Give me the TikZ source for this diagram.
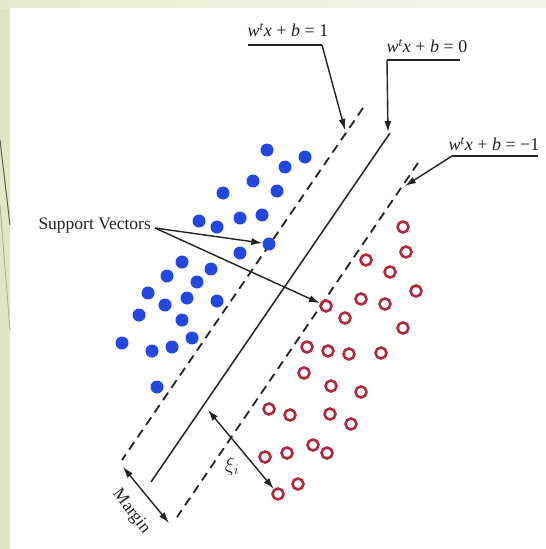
\documentclass[tikz,border=0pt]{standalone}
\usepackage{fontspec}
\setmainfont{Liberation Serif}
\usetikzlibrary{arrows.meta}
\definecolor{bgleaf}{HTML}{DFE6C6}
\definecolor{bgtop}{HTML}{F4F6EA}
\definecolor{dotblue}{HTML}{2348E0}
\definecolor{ringred}{HTML}{B02A40}
\definecolor{inkline}{HTML}{222222}
\newcommand{\eqtext}[1]{\textit{w}\textsuperscript{\textit{t}}\textit{x} + \textit{b} = #1}
\tikzset{
  bdot/.style={circle,fill=dotblue,inner sep=0pt,minimum size=13pt},
  rring/.style={circle,draw=ringred,line width=2.6pt,inner sep=0pt,minimum size=11pt},
  hyper/.style={inkline,line width=1.5pt},
  marginline/.style={inkline,line width=1.8pt,dash pattern=on 9pt off 6pt},
  eqlabel/.style={font=\fontsize{18}{20}\selectfont,inner sep=1pt,text=inkline},
  uline/.style={inkline,line width=1.6pt},
  pointer/.style={inkline,line width=1.4pt,-{Latex[length=11pt,width=7pt]}},
  twoway/.style={inkline,line width=1.4pt,{Latex[length=11pt,width=7pt]}-{Latex[length=11pt,width=7pt]}},
  caption/.style={font=\fontsize{17.5}{19}\selectfont,text=inkline,inner sep=1pt}
}
\begin{document}
\begin{tikzpicture}[x=1pt,y=-1pt]
\useasboundingbox (0,0) rectangle (546,549);
% background
\fill[bgleaf] (0,0) rectangle (546,549);
\shade[left color=bgleaf!80!white,right color=bgtop] (0,0) rectangle (546,8);
\fill[white] (10,8) rectangle (546,549);
\draw[color=black!60!bgleaf,line width=1pt] (0,140) -- (10,225);
\draw[color=black!25!bgleaf,line width=0.8pt] (0,205) -- (10,330);

% hyperplanes
\coordinate (s1) at (390,133); \coordinate (s2) at (151,482);
\coordinate (u1) at (363,108); \coordinate (u2) at (122,460);
\coordinate (l1) at (418,163); \coordinate (l2) at (177,517);
\draw[hyper] (s1) -- (s2);
\draw[marginline] (u1) -- (u2);
\draw[marginline] (l1) -- (l2);

% blue points
\foreach \n/\x/\y in {1/267/150,2/305/157,3/285/167,4/253/181,5/277/191,6/223/193,
  7/199/221,8/217/227,9/240/218,10/262/215,11/240/253,12/182/262,13/211/269,
  14/167/276,15/197/282,16/148/293,17/165/305,18/187/298,19/217/301,20/139/315,
  21/182/320,22/192/338,23/122/343,24/152/351,25/172/347,26/157/387}
  \node[bdot] (b\n) at (\x,\y) {};
\node[bdot] (sv1) at (269,244) {};

% red points
\foreach \n/\x/\y in {1/403/227,2/406/252,3/366/260,4/390/272,5/416/291,6/361/299,
  7/385/304,8/345/318,9/403/328,10/307/347,11/328/351,12/349/354,13/381/353,
  14/304/373,15/331/386,16/361/392,17/269/409,18/290/415,19/330/414,20/351/424,
  21/313/445,22/327/453,23/265/457,24/287/453,25/298/484}
  \node[rring] (r\n) at (\x,\y) {};
\node[rring] (sv2) at (326,306) {};
\node[rring] (xr) at (278,494) {};

% equation labels
\node[eqlabel] (e1) at (288,30) {\eqtext{1}};
\coordinate (e1a) at (248,45); \coordinate (e1b) at (322,45);
\draw[uline] (e1a) -- (e1b);
\coordinate (e1t) at (345,130);
\draw[pointer] (e1b) -- (e1t);

\node[eqlabel] (e0) at (427,46) {\eqtext{0}};
\coordinate (e0a) at (387,60); \coordinate (e0b) at (460,60);
\draw[uline] (e0a) -- (e0b);
\coordinate (e0t) at (388,132);
\draw[pointer] (e0a) -- (e0t);

\node[eqlabel] (em) at (494,144) {\eqtext{\textminus1}};
\coordinate (ema) at (452,156); \coordinate (emb) at (538,156);
\draw[uline] (ema) -- (emb);
\coordinate (emt) at (405,186);
\draw[pointer] (ema) -- (emt);

% support vectors
\node[caption,anchor=east] (svl) at (152,226) {Support Vectors};
\coordinate (svo) at (155,228);
\draw[pointer] (svo) -- (sv1);
\draw[pointer] (svo) -- (sv2);

% margin
\coordinate (m1) at (123,467); \coordinate (m2) at (169,523);
\draw[twoway] (m1) -- (m2);
\node[caption,rotate=-53] (ml) at (131,512) {Margin};

% slack
\coordinate (x1) at (208,410);
\draw[twoway] (x1) -- (xr);
\node[eqlabel,font=\fontsize{20}{22}\selectfont] (xi) at (232,466) {$\xi_i$};
\end{tikzpicture}
\end{document}
